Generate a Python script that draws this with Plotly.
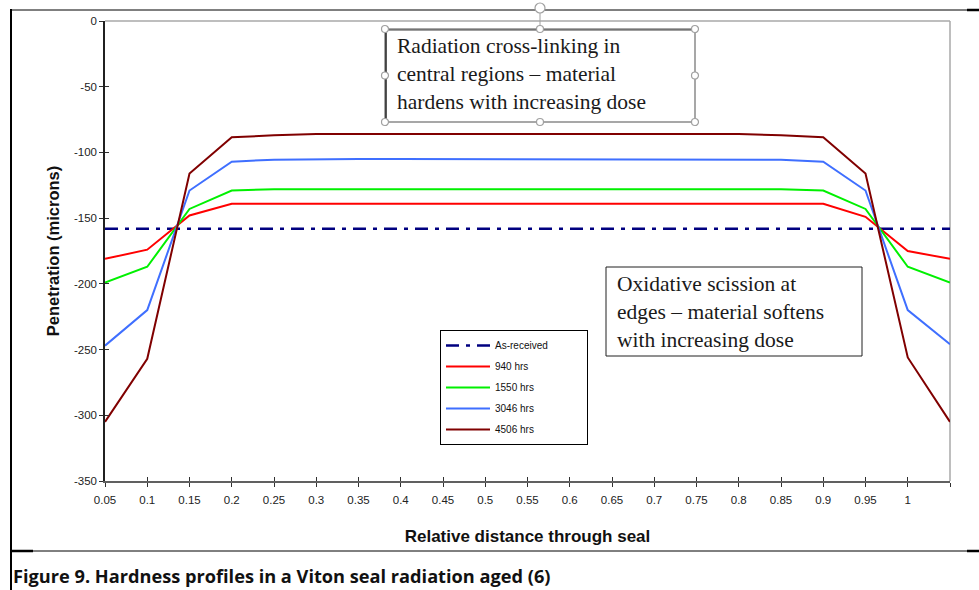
import plotly.graph_objects as go

# ---- data ----
x_vals = [0.05, 0.10, 0.15, 0.20, 0.25, 0.30, 0.35, 0.40, 0.45, 0.50, 0.55,
          0.60, 0.65, 0.70, 0.75, 0.80, 0.85, 0.90, 0.95, 1.00, 1.05]
tick_vals = [0.05, 0.10, 0.15, 0.20, 0.25, 0.30, 0.35, 0.40, 0.45, 0.50, 0.55,
             0.60, 0.65, 0.70, 0.75, 0.80, 0.85, 0.90, 0.95, 1.00, 1.05]
tick_text = ["0.05", "0.1", "0.15", "0.2", "0.25", "0.3", "0.35", "0.4", "0.45", "0.5", "0.55",
             "0.6", "0.65", "0.7", "0.75", "0.8", "0.85", "0.9", "0.95", "1", ""]

as_received = [-158, -158, -158, -158, -158, -158, -158, -158, -158, -158, -158,
               -158, -158, -158, -158, -158, -158, -158, -158, -158, -158]
hrs_940 = [-181, -174, -148, -139, -139, -139, -139, -139, -139, -139, -139,
           -139, -139, -139, -139, -139, -139, -139, -149, -175, -181]
hrs_1550 = [-199, -187, -143, -129, -128, -128, -128, -128, -128, -128, -128,
            -128, -128, -128, -128, -128, -128, -129, -143, -187, -199]
hrs_3046 = [-247, -220, -129, -107, -105.5, -105, -105, -105, -105, -105, -105,
            -105, -105, -105, -105, -105, -105.5, -107, -129, -220, -246]
hrs_4506 = [-305, -257, -116, -88.5, -87, -86, -86, -86, -86, -86, -86,
            -86, -86, -86, -86, -86, -87, -88.5, -116, -256, -305]

series_names = ["940 hrs", "1550 hrs", "3046 hrs", "4506 hrs"]
series_vals = [hrs_940, hrs_1550, hrs_3046, hrs_4506]
series_colors = ["#FF0000", "#00F000", "#3F6FFF", "#800000"]

y_ticks = [0, -50, -100, -150, -200, -250, -300, -350]
y_tick_text = ["0", "-50", "-100", "-150", "-200", "-250", "-300", "-350"]

# ---- geometry helpers (pixel -> paper) ----
L, R, T, B = 105, 950, 21, 481
W, H = 979, 590


def px(x):
    return (x - L) / (R - L)


def py(y):
    return (B - y) / (B - T)


NB = "\u00a0"
PAD = NB * 12

fig = go.Figure()

fig.add_trace(go.Scatter(
    x=x_vals, y=as_received, mode="lines", name="As-received" + PAD,
    line=dict(color="#000080", width=2.5, dash="13px,7px,4px,7px"),
    legendgroup="a",
))
for i, (nm, vals, col) in enumerate(zip(series_names, series_vals, series_colors)):
    fig.add_trace(go.Scatter(
        x=x_vals, y=vals, mode="lines", name=nm,
        line=dict(color=col, width=2),
        legendgroup="g%d" % i,
    ))

tick_font = dict(family="Liberation Sans, Arial", size=11.5, color="#222222")

fig.update_layout(
    width=W, height=H,
    margin=dict(l=L, r=W - R, t=T, b=H - B),
    paper_bgcolor="white", plot_bgcolor="white",
    showlegend=True,
    legend=dict(
        x=px(440), y=py(330), xanchor="left", yanchor="top",
        bordercolor="#000000", borderwidth=1, bgcolor="white",
        font=dict(family="Liberation Sans, Arial", size=10, color="#111111"),
        tracegroupgap=2, itemwidth=44,
    ),
    xaxis=dict(
        range=[0.05, 1.05], tickvals=tick_vals, ticktext=tick_text,
        showgrid=False, zeroline=False,
        showline=True, linecolor="#606060", linewidth=1.5,
        ticks="outside", ticklen=4, tickcolor="#303030", tickwidth=1,
        tickfont=tick_font, ticklabelstandoff=3,
        title=dict(text="<b>Relative distance through seal</b>",
                   font=dict(family="Liberation Sans, Arial", size=17, color="#111111"),
                   standoff=26),
    ),
    yaxis=dict(
        range=[-350, 0], tickvals=y_ticks, ticktext=y_tick_text,
        showgrid=False, zeroline=False,
        showline=True, linecolor="#202020", linewidth=1.5,
        ticks="outside", ticklen=4, tickcolor="#303030", tickwidth=1,
        tickfont=tick_font,
        title=dict(text="<b>Penetration (microns)</b>",
                   font=dict(family="Liberation Sans, Arial", size=16.5, color="#111111"),
                   standoff=10),
    ),
    xaxis2=dict(range=[0.05, 1.05], tickvals=tick_vals, overlaying="x", side="bottom",
                anchor="y", showgrid=False, zeroline=False, showline=False,
                ticks="inside", ticklen=4, tickcolor="#303030", showticklabels=False),
    yaxis2=dict(range=[-350, 0], tickvals=y_ticks, overlaying="y", side="left",
                anchor="x", showgrid=False, zeroline=False, showline=False,
                ticks="inside", ticklen=4, tickcolor="#303030", showticklabels=False),
)
# invisible trace to activate overlay axes
fig.add_trace(go.Scatter(x=[x_vals[0]], y=[y_ticks[0]], xaxis="x2", yaxis="y2",
                         mode="lines", showlegend=False, hoverinfo="skip",
                         line=dict(color="rgba(0,0,0,0)")))

shapes = []
# plot-area gray border (top/right)
shapes.append(dict(type="line", xref="paper", yref="paper", x0=0, x1=1, y0=1, y1=1,
                   line=dict(color="#A8A8A8", width=1.5), layer="below"))
shapes.append(dict(type="line", xref="paper", yref="paper", x0=1, x1=1, y0=0, y1=1,
                   line=dict(color="#A8A8A8", width=1.5), layer="below"))
# document frame lines
shapes.append(dict(type="line", xref="paper", yref="paper", x0=px(10), x1=px(979), y0=py(10), y1=py(10),
                   line=dict(color="#000000", width=1)))
shapes.append(dict(type="line", xref="paper", yref="paper", x0=px(967), x1=px(979), y0=py(10), y1=py(10),
                   line=dict(color="#000000", width=2.5)))
shapes.append(dict(type="line", xref="paper", yref="paper", x0=px(11), x1=px(11), y0=py(9), y1=py(590),
                   line=dict(color="#000000", width=2)))
shapes.append(dict(type="line", xref="paper", yref="paper", x0=px(10), x1=px(979), y0=py(551), y1=py(551),
                   line=dict(color="#000000", width=1)))
shapes.append(dict(type="line", xref="paper", yref="paper", x0=px(10), x1=px(33), y0=py(551), y1=py(551),
                   line=dict(color="#000000", width=2.5)))
shapes.append(dict(type="line", xref="paper", yref="paper", x0=px(967), x1=px(979), y0=py(551), y1=py(551),
                   line=dict(color="#000000", width=2.5)))

# text box 1 (selected in Word: gray selection outline + handles)
bx0, by0, bx1, by1 = 385, 29, 695, 122
shapes.append(dict(type="rect", xref="paper", yref="paper",
                   x0=px(bx0), x1=px(bx1), y0=py(by0), y1=py(by1),
                   line=dict(color="#8A8A8A", width=1.5), fillcolor="white"))
shapes.append(dict(type="line", xref="paper", yref="paper", x0=px(bx0), x1=px(bx1), y0=py(by0 + 1), y1=py(by0 + 1),
                   line=dict(color="#404040", width=1)))
shapes.append(dict(type="line", xref="paper", yref="paper", x0=px(bx0 + 1), x1=px(bx0 + 1), y0=py(by0), y1=py(by1),
                   line=dict(color="#202020", width=1.5)))
# rotation handle
shapes.append(dict(type="line", xref="paper", yref="paper", x0=px(540), x1=px(540), y0=py(13), y1=py(by0),
                   line=dict(color="#A0A0A0", width=1)))
shapes.append(dict(type="circle", xref="paper", yref="paper", x0=px(535), x1=px(545), y0=py(3), y1=py(13),
                   line=dict(color="#A0A0A0", width=1.2), fillcolor="white"))
mx, my = (bx0 + bx1) / 2, (by0 + by1) / 2
for hx, hy in [(bx0, by0), (mx, by0), (bx1, by0), (bx0, my), (bx1, my), (bx0, by1), (mx, by1), (bx1, by1)]:
    shapes.append(dict(type="circle", xref="paper", yref="paper",
                       x0=px(hx - 3.5), x1=px(hx + 3.5), y0=py(hy - 3.5), y1=py(hy + 3.5),
                       line=dict(color="#A0A0A0", width=1.2), fillcolor="white"))

# text box 2
shapes.append(dict(type="rect", xref="paper", yref="paper",
                   x0=px(606), x1=px(862), y0=py(267), y1=py(356),
                   line=dict(color="#202020", width=1), fillcolor="white"))

fig.update_layout(shapes=shapes)

serif = dict(family="Liberation Serif, Times New Roman", size=21.5, color="#1A1A1A")
annotations = [
    dict(xref="paper", yref="paper", x=px(395), y=py(74), xanchor="left", yanchor="middle",
         text="Radiation cross-linking in<br>central regions – material<br>hardens with increasing dose",
         showarrow=False, align="left", font=serif),
    dict(xref="paper", yref="paper", x=px(615), y=py(312), xanchor="left", yanchor="middle",
         text="Oxidative scission at<br>edges – material softens<br>with increasing dose",
         showarrow=False, align="left", font=serif),
    dict(xref="paper", yref="paper", x=px(11), y=py(576), xanchor="left", yanchor="middle",
         text="<b>Figure 9. Hardness profiles in a Viton seal radiation aged (6)</b>",
         showarrow=False, align="left",
         font=dict(family="Open Sans, Noto Sans", size=18.2, color="#111111")),
]
fig.update_layout(annotations=annotations)

fig.write_html("out.html")
